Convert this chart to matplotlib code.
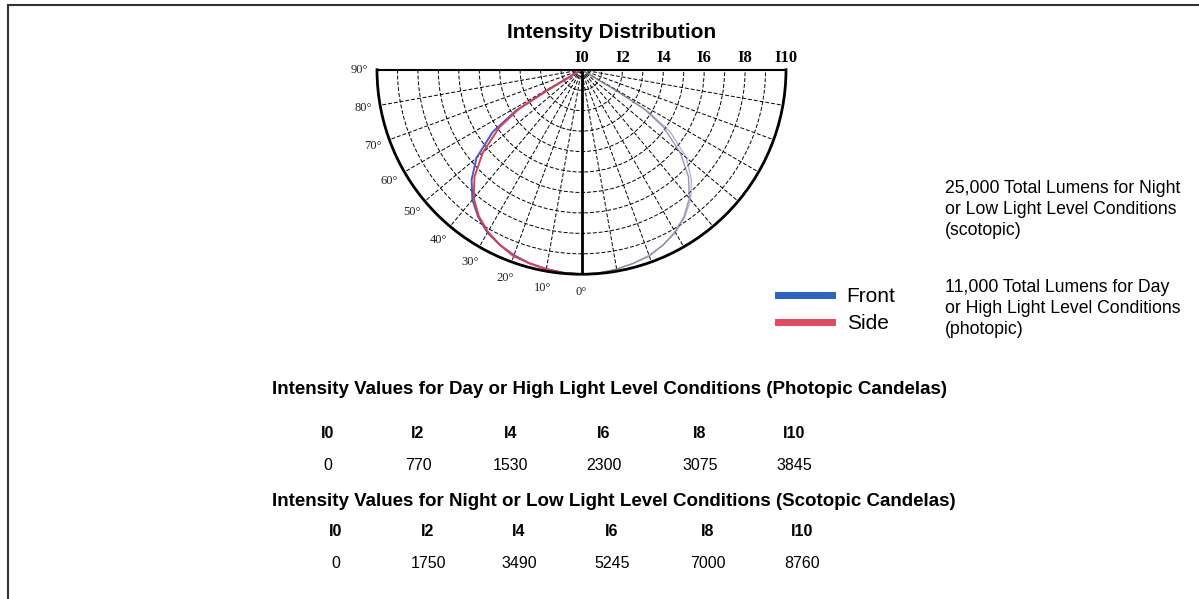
import numpy as np
import matplotlib
matplotlib.use("Agg")
import matplotlib.pyplot as plt
from matplotlib.lines import Line2D
from matplotlib.transforms import ScaledTranslation

# ---- data ----
# angle from nadir (deg) and relative intensity in I-units (0..10)
ang = [0, 5, 10, 15, 20, 25, 30, 35, 40, 45, 50, 55, 58, 59, 60]
side_I = [10.0, 9.97, 9.9, 9.8, 9.7, 9.45, 9.15, 8.75, 8.2, 7.4, 6.3, 4.9, 3.6, 2.0, 0.0]
front_I = [10.0, 9.97, 9.9, 9.8, 9.65, 9.45, 9.2, 8.8, 8.3, 7.6, 6.7, 5.3, 3.8, 2.0, 0.0]

angle_labels = [90, 80, 70, 60, 50, 40, 30, 20, 10, 0]
ring_labels = ['I0', 'I2', 'I4', 'I6', 'I8', 'I10']
ring_pos = [0, 2, 4, 6, 8, 10]

col_labels = ['I0', 'I2', 'I4', 'I6', 'I8', 'I10']
photopic = [0, 770, 1530, 2300, 3075, 3845]
scotopic = [0, 1750, 3490, 5245, 7000, 8760]

W, H = 1199, 599
fig = plt.figure(figsize=(W / 100, H / 100), dpi=100)
fig.patch.set_facecolor('white')

def px(x, y):
    return x / W, 1 - y / H

sans = 'Liberation Sans'
serif = 'Liberation Serif'

# ---- polar intensity diagram ----
# polar axes keep a square box; the half wedge sits in its middle
ax = fig.add_axes([377 / W, 1 - 376.5 / H, 409 / W, 409 / H], projection='polar')
ax.set_theta_zero_location('S')
ax.set_thetamin(-90)
ax.set_thetamax(90)
ax.set_ylim(0, 10)
ax.set_rticks(range(1, 11))
ax.set_yticklabels([])
ax.set_xticks(np.deg2rad(np.arange(-80, 90, 10)))
ax.set_xticklabels([])
ax.grid(True, color='black', lw=0.7, ls=(0, (4, 2)))
ax.spines['polar'].set_linewidth(2)
ax.spines['start'].set_linewidth(1.5)
ax.spines['end'].set_linewidth(1.5)
ax.plot([0, 0], [0, 10], color='black', lw=2)

th = np.deg2rad(np.array(ang))
front_c = '#3a5fd0'
side_c = '#e23b52'
# left half (strong)
ax.plot(-th, front_I, color=front_c, lw=1.4)
ax.plot(-th, side_I, color=side_c, lw=1.4)
# right half (faded in the print)
ax.plot(th, front_I, color=front_c, lw=1.0, alpha=0.45)
ax.plot(th, side_I, color='#8a7f86', lw=1.0, alpha=0.8)

for a in angle_labels:
    ax.text(np.deg2rad(-a), 10.85, '%d°' % a, ha='center', va='center',
            fontsize=9, family=serif, color='#222222')

off = ax.transData + ScaledTranslation(0, 3 / 72, fig.dpi_scale_trans)
for r, lab in zip(ring_pos, ring_labels):
    ax.text(np.pi / 2, r, lab, ha='center', va='bottom', fontsize=12,
            family=serif, fontweight='bold', transform=off)

fig.text(*px(612, 33), 'Intensity Distribution', ha='center', va='center',
         fontsize=15, fontweight='bold', family=sans)

# ---- legend ----
handles = [Line2D([], [], color='#2a62c9', lw=5), Line2D([], [], color='#e5485d', lw=5)]
fig.legend(handles, ['Front', 'Side'], loc='upper left', bbox_to_anchor=px(778, 287),
           frameon=False, handlelength=2.6, handletextpad=0.7,
           labelspacing=0.4, borderpad=0, borderaxespad=0, prop={'family': sans, 'size': 15})

# ---- notes on the right ----
fig.text(*px(945, 180), '25,000 Total Lumens for Night\nor Low Light Level Conditions\n(scotopic)',
         ha='left', va='top', fontsize=12.7, family=sans, linespacing=1.32)
fig.text(*px(945, 279), '11,000 Total Lumens for Day\nor High Light Level Conditions\n(photopic)',
         ha='left', va='top', fontsize=12.7, family=sans, linespacing=1.32)

# ---- intensity tables ----
def table(y0, title, values, cols, dy_lab, dy_val):
    fig.text(*px(272, y0), title, ha='left', va='center', fontsize=13.5,
             fontweight='bold', family=sans)
    for x, lab, v in zip(cols, col_labels, values):
        fig.text(*px(x, y0 + dy_lab), lab, ha='center', va='center', fontsize=11.5,
                 fontweight='bold', family=sans)
        fig.text(*px(x, y0 + dy_val), str(v), ha='center', va='center', fontsize=11.5,
                 family=sans)

table(389, 'Intensity Values for Day or High Light Level Conditions (Photopic Candelas)',
      photopic, [328, 418, 511, 604, 700, 794], 45, 76)
table(501, 'Intensity Values for Night or Low Light Level Conditions (Scotopic Candelas)',
      scotopic, [336, 428, 519, 612, 708, 802], 31, 63)

# ---- page border (top and left edges) ----
fig.add_artist(Line2D([8 / W, 1], [1 - 5 / H, 1 - 5 / H], transform=fig.transFigure,
                      color='#333333', lw=1.5))
fig.add_artist(Line2D([8 / W, 8 / W], [0, 1 - 5 / H], transform=fig.transFigure,
                      color='#333333', lw=1.5))

fig.savefig('out.png', dpi=100)
